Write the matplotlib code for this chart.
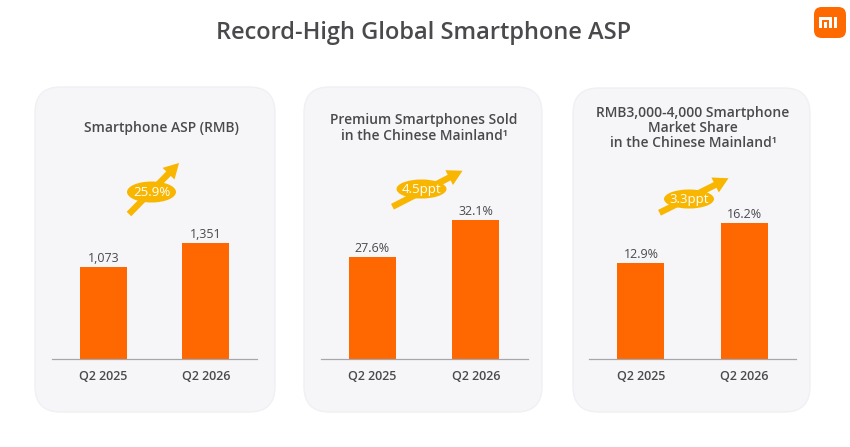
import matplotlib
matplotlib.use("Agg")
import matplotlib.pyplot as plt
from matplotlib.patches import FancyBboxPatch, Ellipse, FancyArrowPatch, Rectangle

# data
categories = ["Q2 2025", "Q2 2026"]
asp_rmb = [1073, 1351]
premium_share = [27.6, 32.1]
mid_share = [12.9, 16.2]
growth_labels = ["25.9%", "4.5ppt", "3.3ppt"]
panel_titles = ["Smartphone ASP (RMB)",
                "Premium Smartphones Sold\nin the Chinese Mainland\u00b9",
                "RMB3,000-4,000 Smartphone\nMarket Share\nin the Chinese Mainland\u00b9"]

W, H = 850, 447
ORANGE = "#FF6700"
GOLD = "#F8B600"
TXT = "#4A4A4D"
PANEL = "#F6F5F8"
plt.rcParams['font.family'] = ['Open Sans', 'DejaVu Sans']

fig = plt.figure(figsize=(W / 100, H / 100), dpi=100)
fig.patch.set_facecolor("white")

def fx(x):
    return x / W

def fy(y):
    return 1 - y / H

# title
fig.text(fx(424), fy(33), "Record-High Global Smartphone ASP", ha="center", va="center",
         fontsize=17, color=TXT, fontweight="semibold")

# logo
fig.patches.append(FancyBboxPatch((fx(814), fy(38)), fx(32), 31 / H,
                                  boxstyle="round,pad=0,rounding_size=0.009",
                                  transform=fig.transFigure, facecolor="#FF6A00",
                                  edgecolor="none", mutation_aspect=W / H))
for (x0, y0, x1, y1) in [(819, 17, 822, 27.5), (819, 17, 831.5, 20), (828.5, 17, 831.5, 27.5),
                         (824, 21.5, 826.5, 27.5), (834, 17, 837, 27.5)]:
    fig.patches.append(Rectangle((fx(x0), fy(y1)), (x1 - x0) / W, (y1 - y0) / H,
                                 transform=fig.transFigure, facecolor="white", edgecolor="none"))

panels = [
    # panel box, axes x-range, ylim, title x, ellipse centre, arrow tail, arrow tip
    dict(box=(35, 87, 275, 412), ax=(52, 257), ylim=(0, 3012), tx=161,
         ell=(151.5, 192, 49, 21), tail=(127, 216), tip=(181, 161), values=asp_rmb, fmt="{:,}"),
    dict(box=(304, 87, 542, 412), ax=(320.5, 527.5), ylim=(15.06, 46.8), tx=424,
         ell=(421.5, 189, 50, 19), tail=(390, 208), tip=(465, 169.5), values=premium_share, fmt="{}%"),
    dict(box=(573, 88, 810, 412), ax=(589.3, 796), ylim=(4.9, 26.4), tx=693,
         ell=(689, 199, 50, 19), tail=(657, 214), tip=(731, 177), values=mid_share, fmt="{}%"),
]

base_y = 359.3
top_y = 100

for i, p in enumerate(panels):
    bx0, by0, bx1, by1 = p["box"]
    fig.patches.append(FancyBboxPatch((fx(bx0), fy(by1)), (bx1 - bx0) / W, (by1 - by0) / H,
                                      boxstyle="round,pad=0,rounding_size=0.03",
                                      transform=fig.transFigure, facecolor=PANEL,
                                      edgecolor="#F0EFF3", linewidth=1.0,
                                      mutation_aspect=W / H, zorder=-5))

    ax0, ax1 = p["ax"]
    ax = fig.add_axes([fx(ax0), fy(base_y), (ax1 - ax0) / W, (base_y - top_y) / H])
    ax.set_facecolor("none")
    xs = range(len(categories))
    ax.bar(xs, p["values"], width=0.455, color=ORANGE, zorder=2)
    ax.set_xlim(-0.5, 1.5)
    ax.set_ylim(*p["ylim"])
    for s in ["top", "left", "right"]:
        ax.spines[s].set_visible(False)
    ax.spines["bottom"].set_color("#A7A6AA")
    ax.spines["bottom"].set_linewidth(0.9)
    ax.set_yticks([])
    ax.set_xticks(list(xs))
    ax.set_xticklabels(categories, fontsize=9, color=TXT, fontweight="semibold")
    ax.tick_params(axis="x", length=0, pad=7.5)
    for x, v in zip(xs, p["values"]):
        ax.annotate(p["fmt"].format(v), (x, v), xytext=(0, 1.5), textcoords="offset points",
                    ha="center", va="bottom", fontsize=9, color=TXT, fontweight="medium")

    fig.text(fx(p["tx"]), fy(128), panel_titles[i], ha="center", va="center",
             fontsize=10, color=TXT, fontweight="semibold", linespacing=1.1)

    tail = (fx(p["tail"][0]), fy(p["tail"][1]))
    tip = (fx(p["tip"][0]), fy(p["tip"][1]))
    fig.patches.append(FancyArrowPatch(tail, tip, transform=fig.transFigure,
                                       arrowstyle="simple,head_length=0.9,head_width=1.0,tail_width=0.38",
                                       mutation_scale=12, color=GOLD, linewidth=0))
    ex, ey, ew, eh = p["ell"]
    fig.patches.append(Ellipse((fx(ex), fy(ey)), ew / W, eh / H, transform=fig.transFigure,
                               facecolor=GOLD, edgecolor="none"))
    fig.text(fx(ex), fy(ey), growth_labels[i], ha="center", va="center",
             fontsize=9.5, color="white", fontweight="medium")

fig.savefig("out.png", dpi=100)
